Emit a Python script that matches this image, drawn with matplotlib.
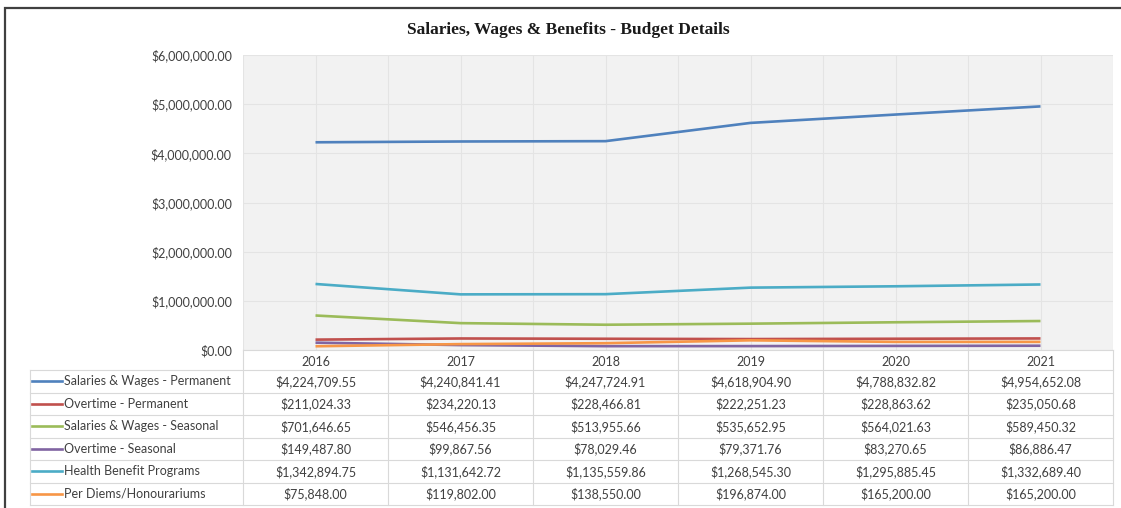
import numpy as np
import matplotlib.pyplot as plt
from matplotlib.patches import Rectangle
from matplotlib.ticker import FuncFormatter, MultipleLocator

plt.rcParams['font.family'] = ['Lato', 'DejaVu Sans']

years = ['2016', '2017', '2018', '2019', '2020', '2021']
sw_permanent = [4224709.55, 4240841.41, 4247724.91, 4618904.90, 4788832.82, 4954652.08]
ot_permanent = [211024.33, 234220.13, 228466.81, 222251.23, 228863.62, 235050.68]
sw_seasonal = [701646.65, 546456.35, 513955.66, 535652.95, 564021.63, 589450.32]
ot_seasonal = [149487.80, 99867.56, 78029.46, 79371.76, 83270.65, 86886.47]
health = [1342894.75, 1131642.72, 1135559.86, 1268545.30, 1295885.45, 1332689.40]
per_diems = [75848.00, 119802.00, 138550.00, 196874.00, 165200.00, 165200.00]

series_names = ['Salaries & Wages - Permanent', 'Overtime - Permanent',
                'Salaries & Wages - Seasonal', 'Overtime - Seasonal',
                'Health Benefit Programs', 'Per Diems/Honourariums']
series_values = [sw_permanent, ot_permanent, sw_seasonal, ot_seasonal, health, per_diems]
series_colors = ['#4F81BD', '#C0504D', '#9BBB59', '#8064A2', '#4BACC6', '#F79646']

W, H = 1121, 508
fig = plt.figure(figsize=(W / 100, H / 100), dpi=100)
ax = fig.add_axes([243 / W, 1 - 350 / H, 870 / W, 295 / H])

x = np.arange(len(years))
for vals, col in zip(series_values, series_colors):
    ax.plot(x, vals, color=col, lw=1.9, solid_capstyle='butt', solid_joinstyle='round')

ax.set_xlim(-0.5, len(years) - 0.5)
ax.set_ylim(0, 6000000)
ax.set_facecolor('#f2f2f2')
for s in ax.spines.values():
    s.set_visible(False)

ax.yaxis.set_major_locator(MultipleLocator(1000000))
ax.yaxis.set_major_formatter(FuncFormatter(lambda v, p: f'${v:,.2f}'))
ax.set_xticks(x, years)
ax.set_xticks(np.arange(-0.5, len(years)), minor=True)
ax.tick_params(axis='y', length=0, pad=8, labelsize=9, labelcolor='#404040')
ax.tick_params(axis='x', which='both', length=0, pad=4, labelsize=9, labelcolor='#404040')
ax.grid(True, which='both', color='#e4e4e4', lw=0.8)
ax.set_axisbelow(True)

# data table under the plot
trans = ax.get_xaxis_transform()
head_h = 20 / 295
row_h = 22.5 / 295
left = -0.5 - 213 / 145
bottom = -head_h - 6 * row_h
lc = '#d9d9d9'

ax.plot([-0.5, 5.5], [0, 0], color=lc, lw=0.8, transform=trans, clip_on=False)
for k in range(7):
    yk = -head_h - k * row_h
    ax.plot([left, 5.5], [yk, yk], color=lc, lw=0.8, transform=trans, clip_on=False)
for i in range(7):
    ax.plot([i - 0.5, i - 0.5], [0, bottom], color=lc, lw=0.8, transform=trans, clip_on=False)
ax.plot([left, left], [-head_h, bottom], color=lc, lw=0.8, transform=trans, clip_on=False)

for r, (name, vals, col) in enumerate(zip(series_names, series_values, series_colors)):
    yc = -head_h - (r + 0.5) * row_h
    ax.plot([left + 2 / 145, left + 32 / 145], [yc, yc], color=col, lw=1.9,
            transform=trans, clip_on=False)
    ax.text(left + 34 / 145, yc, name, transform=trans, ha='left', va='center',
            fontsize=9, color='#404040')
    for i, v in enumerate(vals):
        ax.text(i, yc, f'${v:,.2f}', transform=trans, ha='center', va='center',
                fontsize=9, color='#404040')

fig.text(568 / W, 1 - 30 / H, 'Salaries, Wages & Benefits - Budget Details',
         ha='center', va='center', fontsize=12.5, fontweight='bold',
         family=['Liberation Serif', 'DejaVu Serif'], color='#1a1a1a')

# outer chart frame
fig.add_artist(Rectangle((5 / W, -0.1), 1.2, 1.1 - 8 / H, transform=fig.transFigure,
                         fill=False, edgecolor='#404040', lw=1.6))

fig.savefig('out.png', dpi=100)
